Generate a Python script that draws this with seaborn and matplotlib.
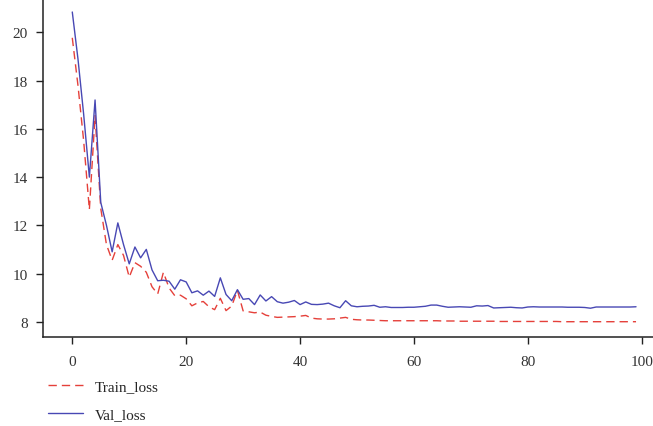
import matplotlib
matplotlib.use("Agg")
import matplotlib.pyplot as plt
import numpy as np
import pandas as pd
import seaborn as sns

# ---------------- data ----------------
epochs = list(range(100))

train_loss = [
    19.78, 17.80, 15.50, 12.65, 16.55, 12.70, 11.20, 10.55, 11.20, 10.75,
    9.85, 10.45, 10.30, 10.05, 9.45, 9.15, 10.05, 9.40, 9.08, 9.10,
    8.95, 8.66, 8.78, 8.84, 8.62, 8.50, 8.97, 8.46, 8.65, 9.30,
    8.45, 8.41, 8.37, 8.40, 8.27, 8.22, 8.18, 8.19, 8.20, 8.21,
    8.23, 8.26, 8.15, 8.12, 8.11, 8.11, 8.12, 8.15, 8.18, 8.10,
    8.08, 8.07, 8.07, 8.06, 8.05, 8.04, 8.04, 8.04, 8.04, 8.04,
    8.04, 8.04, 8.04, 8.04, 8.04, 8.03, 8.03, 8.03, 8.02, 8.02,
    8.02, 8.02, 8.02, 8.02, 8.02, 8.01, 8.01, 8.01, 8.01, 8.01,
    8.01, 8.01, 8.01, 8.01, 8.01, 8.01, 8.00, 8.00, 8.00, 8.00,
    8.00, 8.00, 8.00, 8.00, 8.00, 8.00, 8.00, 8.00, 8.00, 8.00,
]

val_loss = [
    20.85, 18.90, 16.60, 14.00, 17.20, 12.95, 12.00, 10.90, 12.10, 11.20,
    10.40, 11.10, 10.65, 11.00, 10.15, 9.70, 9.72, 9.68, 9.35, 9.74,
    9.65, 9.20, 9.28, 9.10, 9.27, 9.05, 9.82, 9.13, 8.87, 9.33,
    8.93, 8.96, 8.71, 9.11, 8.86, 9.04, 8.83, 8.77, 8.81, 8.88,
    8.71, 8.82, 8.72, 8.71, 8.73, 8.77, 8.66, 8.58, 8.87, 8.66,
    8.62, 8.64, 8.65, 8.68, 8.60, 8.62, 8.59, 8.59, 8.59, 8.60,
    8.60, 8.62, 8.64, 8.69, 8.69, 8.64, 8.60, 8.61, 8.62, 8.61,
    8.60, 8.66, 8.65, 8.67, 8.57, 8.58, 8.59, 8.60, 8.58, 8.57,
    8.61, 8.62, 8.61, 8.61, 8.61, 8.61, 8.61, 8.60, 8.60, 8.60,
    8.59, 8.56, 8.61, 8.61, 8.61, 8.61, 8.61, 8.61, 8.61, 8.62,
]

series_names = ["Train_loss", "Val_loss"]
x_ticks = [0, 20, 40, 60, 80, 100]
y_ticks = [8, 10, 12, 14, 16, 18, 20]

# ---------------- style ----------------
sns.set_style("ticks")
plt.rcParams["font.family"] = ["Liberation Serif", "DejaVu Serif"]
plt.rcParams["font.size"] = 11

colors = {"Train_loss": "#E5403A", "Val_loss": "#4848B4"}
dashes = {"Train_loss": (6, 3.6), "Val_loss": ""}

df = pd.DataFrame({
    "epoch": epochs + epochs,
    "loss": train_loss + val_loss,
    "series": [series_names[0]] * len(epochs) + [series_names[1]] * len(epochs),
})

W, H = 653, 427
fig = plt.figure(figsize=(W / 100, H / 100), dpi=100)
left_px, bottom_px = 43.3, 338.3
ax = fig.add_axes([left_px / W, 1 - bottom_px / H, 1 - left_px / W, bottom_px / H])

sns.lineplot(data=df, x="epoch", y="loss", hue="series", style="series",
             palette=colors, dashes=dashes, linewidth=1.0, ax=ax, legend=False)

ax.set_xlim(-5.09, 101.98)
ax.set_ylim(7.353, 21.39)
ax.set_xticks(x_ticks)
ax.set_yticks(y_ticks)
ax.set_xlabel("")
ax.set_ylabel("")
for s in ["top", "right"]:
    ax.spines[s].set_visible(False)
for s in ["left", "bottom"]:
    ax.spines[s].set_color("#222222")
    ax.spines[s].set_linewidth(1.1)
ax.tick_params(axis="both", direction="out", length=5, width=1.0,
               color="#222222", labelcolor="#333333", labelsize=11, pad=6)
ax.tick_params(axis="x", pad=7.5)

lines = ax.get_lines()[:2]
fig.legend(lines, series_names, loc="upper left",
           bbox_to_anchor=(48 / W, 1 - 380.5 / H),
           frameon=False, fontsize=11, handlelength=2.3, handletextpad=0.75,
           labelspacing=0.95, borderpad=0, borderaxespad=0)

fig.savefig("out.png", dpi=100)
